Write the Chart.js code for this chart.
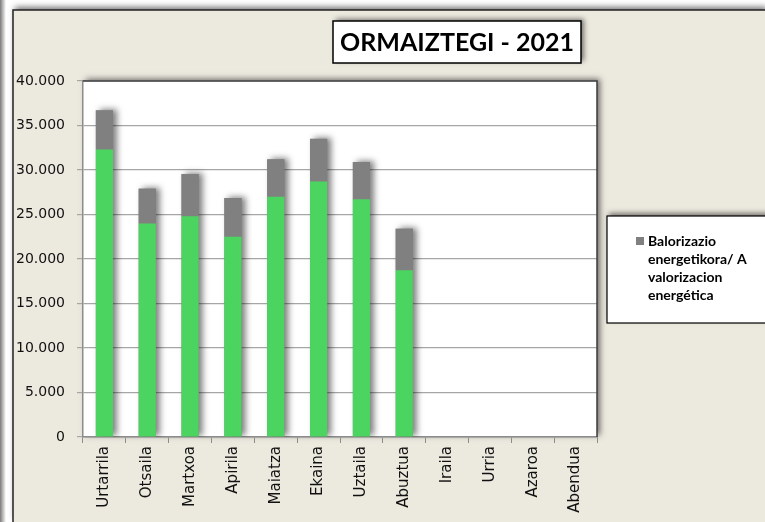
<!DOCTYPE html>
<html>
<head>
<meta charset="utf-8">
<script src="https://cdn.jsdelivr.net/npm/chart.js@4/dist/chart.umd.min.js"></script>
<style>
  html, body { margin: 0; padding: 0; background: #ffffff; }
  canvas { display: block; }
</style>
</head>
<body>
<canvas id="c" width="765" height="522"></canvas>
<script>
// ---- data ----
const months = ["Urtarrila", "Otsaila", "Martxoa", "Apirila", "Maiatza", "Ekaina",
                "Uztaila", "Abuztua", "Iraila", "Urria", "Azaroa", "Abendua"];
const baseValues = [32300, 24000, 24800, 22500, 27000, 28700, 26700, 18750, null, null, null, null];
const energyValues = [4400, 3900, 4750, 4350, 4200, 4800, 4200, 4650, null, null, null, null];
const yTicks = [0, 5000, 10000, 15000, 20000, 25000, 30000, 35000, 40000];
const titleText = "ORMAIZTEGI - 2021";
const energyLabelLines = ["Balorizazio", "energetikora/ A", "valorizacion", "energética"];

const GREEN = "#4CD460";
const GREY = "#808080";
const BEIGE = "#ECE9DF";
const TICK_FONT = "'DejaVu Sans', Verdana, sans-serif";

function fmt(v) {
  return String(v).replace(/\B(?=(\d{3})+(?!\d))/g, ".");
}

const decor = {
  id: "decor",
  beforeDraw(chart) {
    const ctx = chart.ctx;
    const a = chart.chartArea;
    ctx.save();
    ctx.fillStyle = "#ffffff";
    ctx.fillRect(0, 0, chart.width, chart.height);
    const g = ctx.createLinearGradient(0, 0, 6, 0);
    g.addColorStop(0, "#7a7a7a");
    g.addColorStop(1, "#ffffff");
    ctx.fillStyle = g;
    ctx.fillRect(0, 0, 6, chart.height);
    ctx.save();
    ctx.shadowColor = "rgba(0,0,0,0.55)";
    ctx.shadowBlur = 6;
    ctx.shadowOffsetX = 2;
    ctx.shadowOffsetY = -3;
    ctx.fillStyle = BEIGE;
    ctx.fillRect(13, 10, chart.width - 13, chart.height - 10);
    ctx.restore();
    ctx.strokeStyle = "#222";
    ctx.lineWidth = 1.5;
    ctx.beginPath();
    ctx.moveTo(13, chart.height);
    ctx.lineTo(13, 10);
    ctx.lineTo(chart.width, 10);
    ctx.stroke();
    ctx.save();
    ctx.shadowColor = "rgba(0,0,0,0.55)";
    ctx.shadowBlur = 6;
    ctx.shadowOffsetX = 3;
    ctx.shadowOffsetY = -2;
    ctx.fillStyle = "#ffffff";
    ctx.fillRect(a.left, a.top, a.right - a.left, a.bottom - a.top);
    ctx.restore();
    ctx.restore();
  },
  beforeDatasetsDraw(chart) {
    // soft shadow behind each whole stacked column (positions from the library's bar elements)
    const ctx = chart.ctx;
    const a = chart.chartArea;
    const m0 = chart.getDatasetMeta(0).data;
    const m1 = chart.getDatasetMeta(1).data;
    ctx.save();
    ctx.beginPath();
    ctx.rect(a.left, a.top, a.right - a.left, a.bottom - a.top);
    ctx.clip();
    ctx.shadowColor = "rgba(0,0,0,0.5)";
    ctx.shadowBlur = 6;
    ctx.shadowOffsetX = 4;
    ctx.shadowOffsetY = -1;
    ctx.fillStyle = GREY;
    for (let i = 0; i < m0.length; i++) {
      if (baseValues[i] == null) continue;
      const b = m0[i], t = m1[i];
      const top = Math.min(b.y, t && energyValues[i] != null ? t.y : b.y);
      ctx.fillRect(b.x - b.width / 2, top, b.width, b.base - top);
    }
    ctx.restore();
  },
  afterDraw(chart) {
    const ctx = chart.ctx;
    const a = chart.chartArea;
    ctx.save();
    ctx.strokeStyle = "#3c3c3c";
    ctx.lineWidth = 1.5;
    ctx.beginPath();
    ctx.moveTo(a.left, a.top);
    ctx.lineTo(a.right, a.top);
    ctx.lineTo(a.right, a.bottom);
    ctx.stroke();

    // title box
    ctx.save();
    ctx.shadowColor = "rgba(0,0,0,0.5)";
    ctx.shadowBlur = 5;
    ctx.shadowOffsetX = 3;
    ctx.shadowOffsetY = -2;
    ctx.fillStyle = "#ffffff";
    ctx.fillRect(333, 21, 248, 42);
    ctx.restore();
    ctx.strokeStyle = "#000";
    ctx.lineWidth = 1.5;
    ctx.strokeRect(333, 21, 248, 42);
    ctx.fillStyle = "#000";
    ctx.font = "bold 25px Lato";
    ctx.textAlign = "center";
    ctx.textBaseline = "middle";
    ctx.fillText(titleText, 457, 43);

    // legend box
    ctx.save();
    ctx.shadowColor = "rgba(0,0,0,0.5)";
    ctx.shadowBlur = 5;
    ctx.shadowOffsetX = 2;
    ctx.shadowOffsetY = -3;
    ctx.fillStyle = "#ffffff";
    ctx.fillRect(607, 216, 170, 107);
    ctx.restore();
    ctx.strokeStyle = "#000";
    ctx.lineWidth = 1.2;
    ctx.strokeRect(607, 216, 170, 107);
    ctx.fillStyle = chart.data.datasets[1].backgroundColor;
    ctx.fillRect(636, 237, 8, 8);
    ctx.fillStyle = "#000";
    ctx.font = "bold 14px Lato";
    ctx.textAlign = "left";
    ctx.textBaseline = "middle";
    energyLabelLines.forEach((line, i) => ctx.fillText(line, 648, 241.5 + i * 18));
    ctx.restore();
  }
};

new Chart(document.getElementById("c"), {
  type: "bar",
  data: {
    labels: months,
    datasets: [
      { label: "", data: baseValues, backgroundColor: GREEN, stack: "s",
        barPercentage: 0.4, categoryPercentage: 1.0 },
      { label: energyLabelLines.join(" "), data: energyValues, backgroundColor: GREY, stack: "s",
        barPercentage: 0.4, categoryPercentage: 1.0 }
    ]
  },
  options: {
    responsive: false,
    animation: false,
    layout: { padding: { left: 13, top: 81, right: 168, bottom: 0 } },
    plugins: { legend: { display: false }, title: { display: false }, tooltip: { enabled: false } },
    scales: {
      x: {
        stacked: true,
        afterFit(s) { s.height = 85; },
        grid: { display: true, drawOnChartArea: false, drawTicks: true, tickLength: 6,
                offset: true, color: "#8c8c8c" },
        border: { display: true, color: "#8c8c8c", width: 1.5 },
        ticks: { minRotation: 90, maxRotation: 90, autoSkip: false, padding: 3,
                 color: "#111", font: { family: TICK_FONT, size: 15 } }
      },
      y: {
        stacked: true,
        min: 0, max: 40000,
        afterFit(s) { s.width = 70; },
        afterBuildTicks(s) { s.ticks = yTicks.map(v => ({ value: v })); },
        grid: { color: "#a6a6a6", tickLength: 6, lineWidth: 1.2 },
        border: { display: true, color: "#8c8c8c", width: 1.5 },
        ticks: { padding: 12, color: "#111", font: { family: TICK_FONT, size: 14 },
                 callback: (v) => fmt(v) }
      }
    }
  },
  plugins: [decor]
});
</script>
</body>
</html>
